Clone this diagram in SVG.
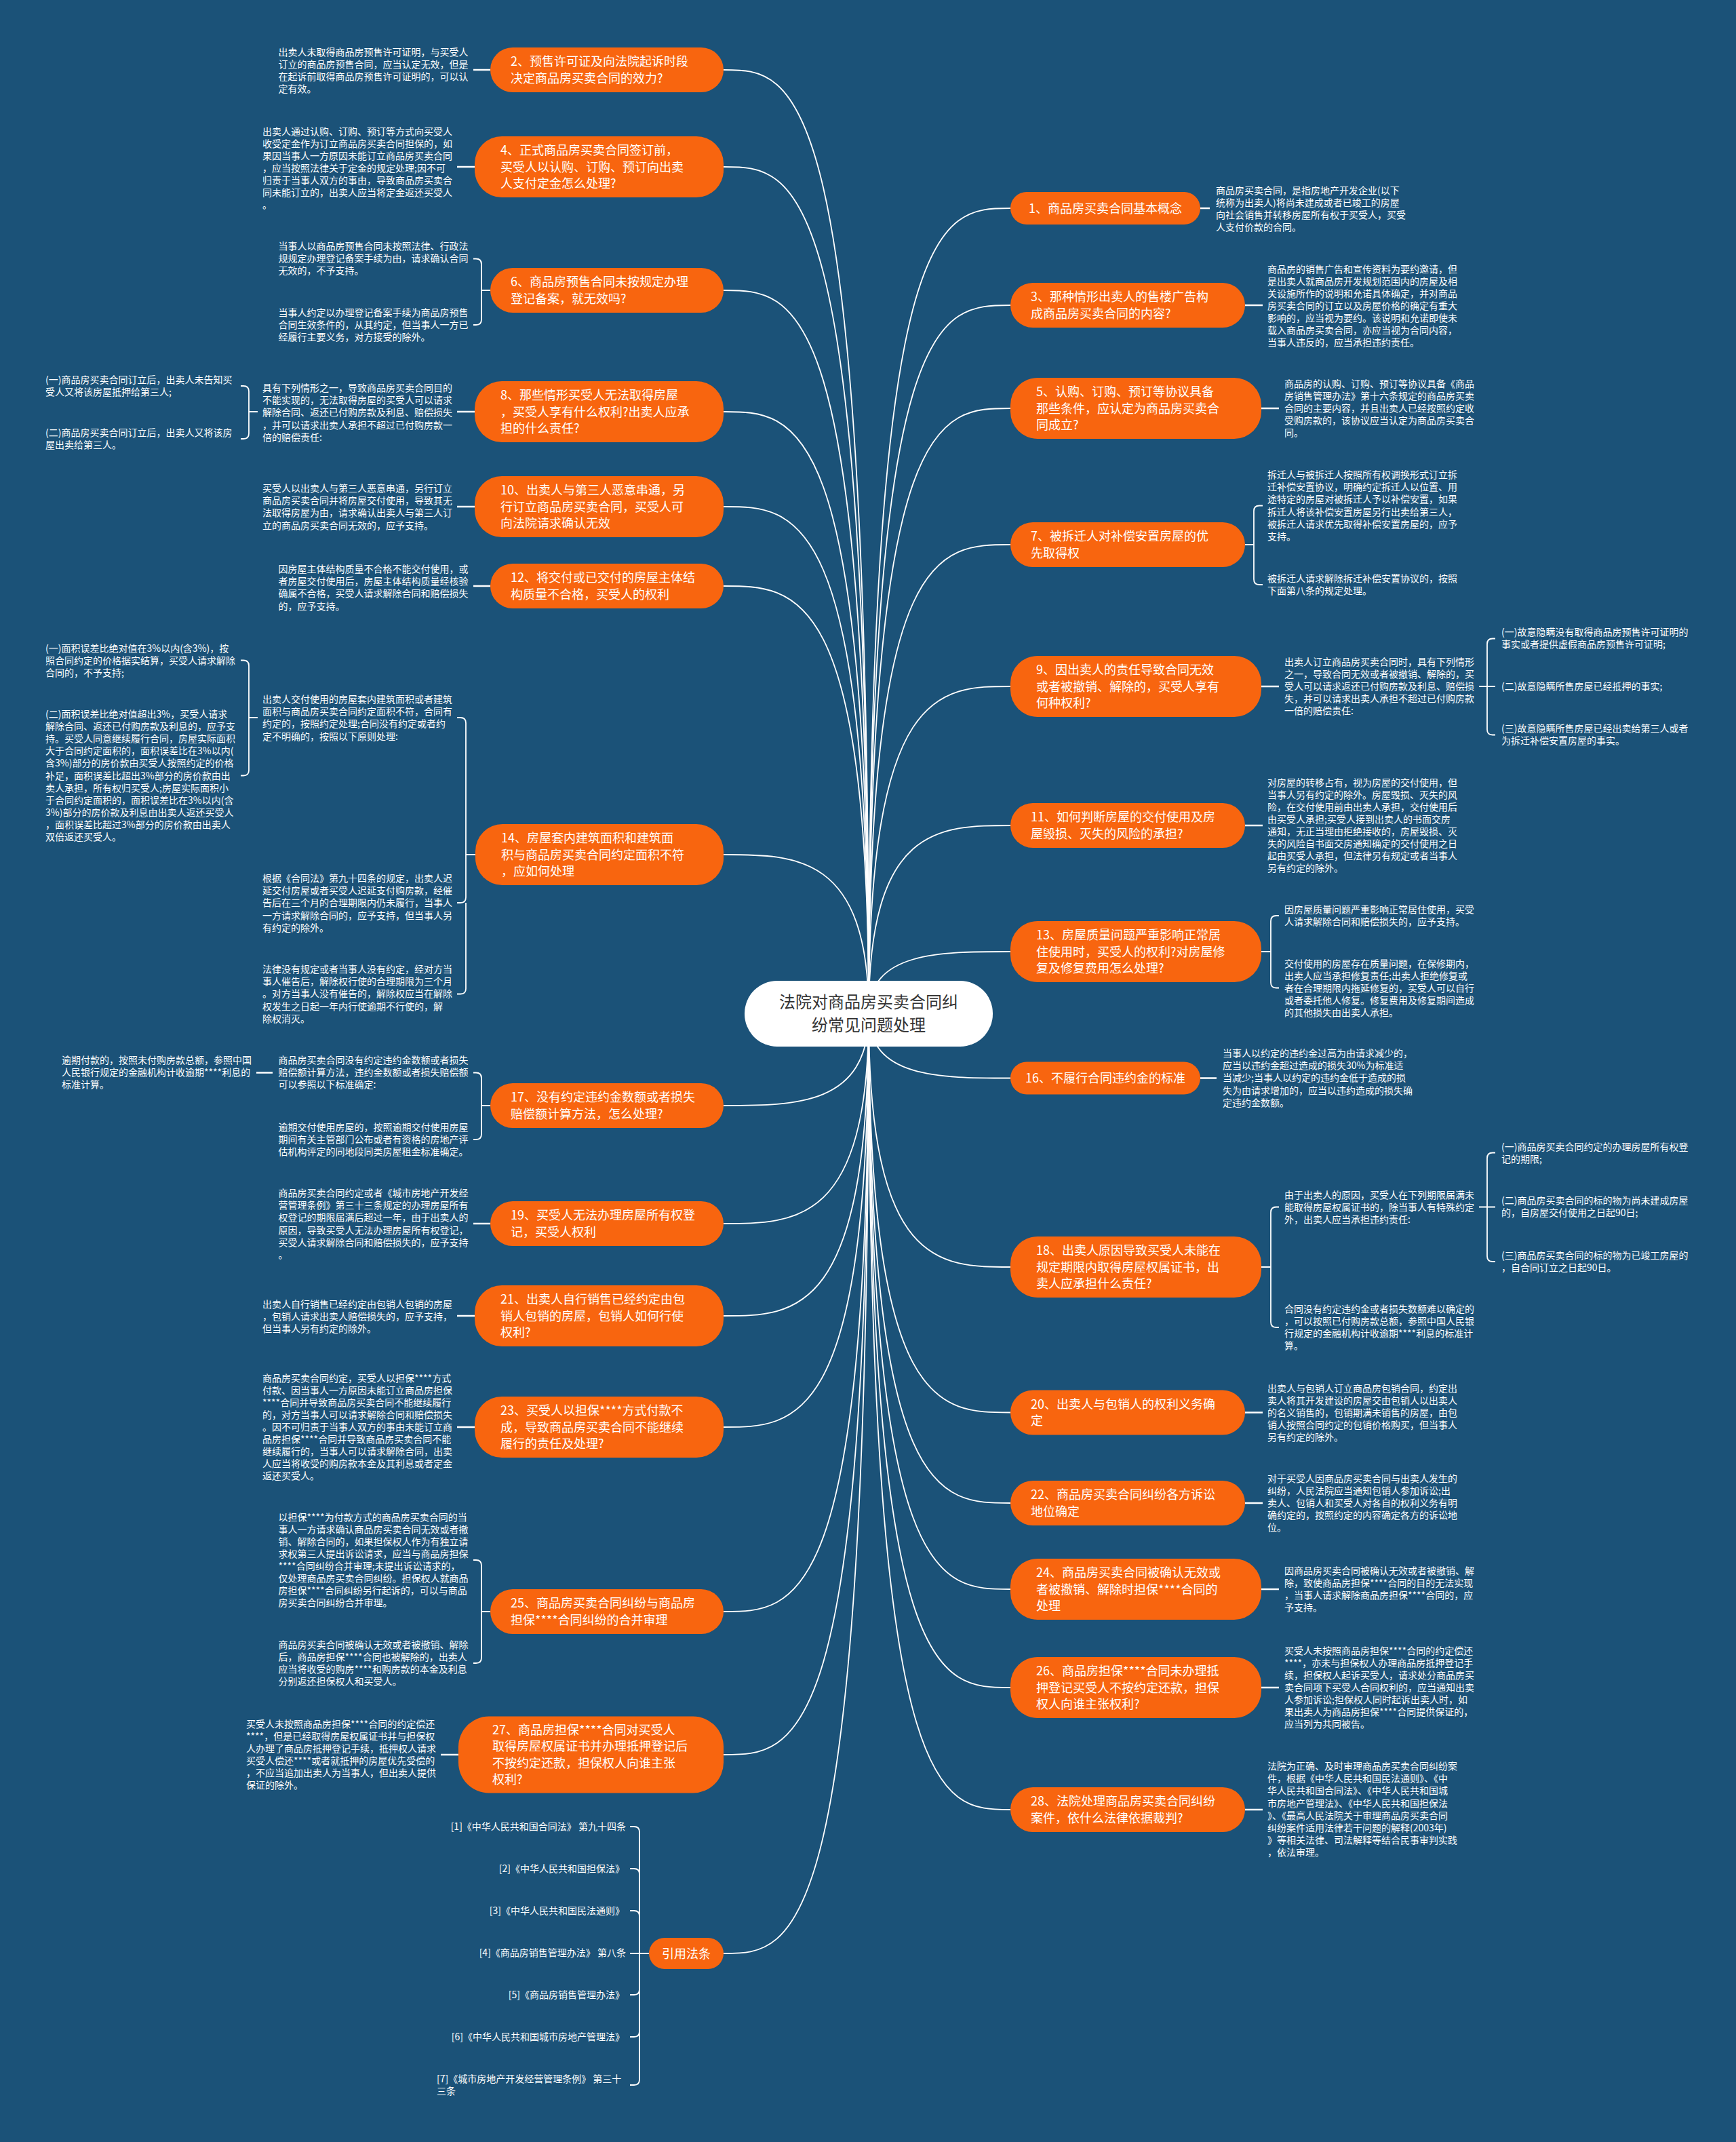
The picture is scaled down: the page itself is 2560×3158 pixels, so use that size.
<svg xmlns="http://www.w3.org/2000/svg" width="2560" height="3158" viewBox="0 0 2560 3158">
<style>
.t{font-family:"Noto Sans CJK SC","Noto Sans",sans-serif;font-size:14px;fill:#fff}
.nt{font-family:"Noto Sans CJK SC","Noto Sans",sans-serif;font-size:18px;fill:#fff}
.ct{font-family:"Noto Sans CJK SC","Noto Sans",sans-serif;font-size:24px;fill:#333;text-anchor:middle}
.re{text-anchor:end}
.n{fill:#f8650f}
.c{fill:none;stroke:#fff;stroke-width:1.8}
.s{fill:none;stroke:#fff;stroke-width:2.5}
</style>
<rect width="2560" height="3158" fill="#1b5278"/>
<g id="connectors">
<path class="c" d="M1281 1495C1281 103 1174 103 1067 103"/>
<path class="c" d="M1281 1495C1281 246 1174 246 1067 246"/>
<path class="c" d="M1281 1495C1281 428 1174 428 1067 428"/>
<path class="c" d="M1281 1495C1281 607 1174 607 1067 607"/>
<path class="c" d="M1281 1495C1281 747 1174 747 1067 747"/>
<path class="c" d="M1281 1495C1281 864 1174 864 1067 864"/>
<path class="c" d="M1281 1495C1281 1260 1174 1260 1067 1260"/>
<path class="c" d="M1281 1495C1281 1630 1174 1630 1067 1630"/>
<path class="c" d="M1281 1495C1281 1804 1174 1804 1067 1804"/>
<path class="c" d="M1281 1495C1281 1940 1174 1940 1067 1940"/>
<path class="c" d="M1281 1495C1281 2104 1174 2104 1067 2104"/>
<path class="c" d="M1281 1495C1281 2376 1174 2376 1067 2376"/>
<path class="c" d="M1281 1495C1281 2587 1174 2587 1067 2587"/>
<path class="c" d="M1281 1495C1281 2880 1174 2880 1067 2880"/>
<path class="c" d="M1281 1495C1281 307 1385.5 307 1490 307"/>
<path class="c" d="M1281 1495C1281 450 1385.5 450 1490 450"/>
<path class="c" d="M1281 1495C1281 602 1385.5 602 1490 602"/>
<path class="c" d="M1281 1495C1281 803 1385.5 803 1490 803"/>
<path class="c" d="M1281 1495C1281 1012 1385.5 1012 1490 1012"/>
<path class="c" d="M1281 1495C1281 1217 1385.5 1217 1490 1217"/>
<path class="c" d="M1281 1495C1281 1403 1385.5 1403 1490 1403"/>
<path class="c" d="M1281 1495C1281 1589.5 1385.5 1589.5 1490 1589.5"/>
<path class="c" d="M1281 1495C1281 1868 1385.5 1868 1490 1868"/>
<path class="c" d="M1281 1495C1281 2082.5 1385.5 2082.5 1490 2082.5"/>
<path class="c" d="M1281 1495C1281 2216 1385.5 2216 1490 2216"/>
<path class="c" d="M1281 1495C1281 2343 1385.5 2343 1490 2343"/>
<path class="c" d="M1281 1495C1281 2488 1385.5 2488 1490 2488"/>
<path class="c" d="M1281 1495C1281 2668 1385.5 2668 1490 2668"/>
<path class="s" d="M698 103H723M674 246H700M674 607H700M674 747H700M698 864H723M378 1581.5H402M698 1804H723M674 1940H700M674 2104H700M650 2587H676"/>
<path class="s" d="M1770 307H1784M1836 450H1862M1860 602H1886M1860 1012H1886M1836 1217H1862M1770 1589.5H1794M1836 2082.5H1862M1836 2216H1862M1860 2343H1886M1860 2488H1886M1836 2668H1862"/>
<path class="c" d="M723 428H710V389.5Q710 381.5 702 381.5H698M710 428V471Q710 479 702 479H698"/>
<path class="c" d="M380 607H367V577Q367 569 359 569H355M367 607V639Q367 647 359 647H355"/>
<path class="c" d="M701 1260H687V1066Q687 1058 679 1058H674M687 1260V1323Q687 1331 679 1331H674M687 1331V1457.5Q687 1465.5 679 1465.5H674"/>
<path class="c" d="M380 1058H367V981.5Q367 973.5 359 973.5H355M367 1058V1135.5Q367 1143.5 359 1143.5H355"/>
<path class="c" d="M723 1630H710V1589.5Q710 1581.5 702 1581.5H698M710 1630V1672Q710 1680 702 1680H698"/>
<path class="c" d="M723 2376H710V2308Q710 2300 702 2300H698M710 2376V2444Q710 2452 702 2452H698"/>
<path class="c" d="M957 2880H929M943 2880V2701Q943 2693 935 2693H929M943 2763Q943 2755 935 2755H929M943 2825Q943 2817 935 2817H929M943 2933Q943 2941 935 2941H929M943 2995Q943 3003 935 3003H929M943 2880V3066Q943 3074 935 3074H929"/>
<path class="c" d="M1836 803H1849V753.5Q1849 745.5 1857 745.5H1862M1849 803V854Q1849 862 1857 862H1862"/>
<path class="c" d="M2181 1012H2205M2193 1012V949.5Q2193 941.5 2201 941.5H2205M2193 1012V1075.5Q2193 1083.5 2201 1083.5H2205"/>
<path class="c" d="M1860 1403H1874V1358Q1874 1350 1882 1350H1886M1874 1403V1448.5Q1874 1456.5 1882 1456.5H1886"/>
<path class="c" d="M1860 1868H1874V1787.5Q1874 1779.5 1882 1779.5H1886M1874 1868V1949Q1874 1957 1882 1957H1886"/>
<path class="c" d="M2181 1779.5H2205M2193 1779.5V1707.5Q2193 1699.5 2201 1699.5H2205M2193 1779.5V1852Q2193 1860 2201 1860H2205"/>
</g>
<g id="center"><rect x="1098" y="1446" width="366" height="97" rx="48" fill="#fff"/><text class="ct" x="1281" y="1485.5"><tspan x="1281">法院对商品房买卖合同纠</tspan><tspan x="1281" dy="34">纷常见问题处理</tspan></text></g>
<g id="n2"><rect class="n" x="723" y="70" width="344" height="66" rx="33"/><text class="nt" x="753" y="97.25"><tspan x="753">2、预售许可证及向法院起诉时段</tspan><tspan x="753" dy="24.5">决定商品房买卖合同的效力?</tspan></text></g>
<g id="n4"><rect class="n" x="700" y="201" width="367" height="90" rx="40"/><text class="nt" x="738" y="228"><tspan x="738">4、正式商品房买卖合同签订前，</tspan><tspan x="738" dy="24.5">买受人以认购、订购、预订向出卖</tspan><tspan x="738" dy="24.5">人支付定金怎么处理?</tspan></text></g>
<g id="n6"><rect class="n" x="723" y="395" width="344" height="66" rx="33"/><text class="nt" x="753" y="422.25"><tspan x="753">6、商品房预售合同未按规定办理</tspan><tspan x="753" dy="24.5">登记备案，就无效吗?</tspan></text></g>
<g id="n8"><rect class="n" x="700" y="562" width="367" height="90" rx="40"/><text class="nt" x="738" y="589"><tspan x="738">8、那些情形买受人无法取得房屋</tspan><tspan x="738" dy="24.5">，买受人享有什么权利?出卖人应承</tspan><tspan x="738" dy="24.5">担的什么责任?</tspan></text></g>
<g id="n10"><rect class="n" x="700" y="702" width="367" height="90" rx="40"/><text class="nt" x="738" y="729"><tspan x="738">10、出卖人与第三人恶意串通，另</tspan><tspan x="738" dy="24.5">行订立商品房买卖合同，买受人可</tspan><tspan x="738" dy="24.5">向法院请求确认无效</tspan></text></g>
<g id="n12"><rect class="n" x="723" y="831" width="344" height="66" rx="33"/><text class="nt" x="753" y="858.25"><tspan x="753">12、将交付或已交付的房屋主体结</tspan><tspan x="753" dy="24.5">构质量不合格，买受人的权利</tspan></text></g>
<g id="n14"><rect class="n" x="701" y="1215" width="366" height="90" rx="40"/><text class="nt" x="739" y="1242"><tspan x="739">14、房屋套内建筑面积和建筑面</tspan><tspan x="739" dy="24.5">积与商品房买卖合同约定面积不符</tspan><tspan x="739" dy="24.5">，应如何处理</tspan></text></g>
<g id="n17"><rect class="n" x="723" y="1597" width="344" height="66" rx="33"/><text class="nt" x="753" y="1624.25"><tspan x="753">17、没有约定违约金数额或者损失</tspan><tspan x="753" dy="24.5">赔偿额计算方法，怎么处理?</tspan></text></g>
<g id="n19"><rect class="n" x="723" y="1771" width="344" height="66" rx="33"/><text class="nt" x="753" y="1798.25"><tspan x="753">19、买受人无法办理房屋所有权登</tspan><tspan x="753" dy="24.5">记，买受人权利</tspan></text></g>
<g id="n21"><rect class="n" x="700" y="1895" width="367" height="90" rx="40"/><text class="nt" x="738" y="1922"><tspan x="738">21、出卖人自行销售已经约定由包</tspan><tspan x="738" dy="24.5">销人包销的房屋，包销人如何行使</tspan><tspan x="738" dy="24.5">权利?</tspan></text></g>
<g id="n23"><rect class="n" x="700" y="2059" width="367" height="90" rx="40"/><text class="nt" x="738" y="2086"><tspan x="738">23、买受人以担保****方式付款不</tspan><tspan x="738" dy="24.5">成，导致商品房买卖合同不能继续</tspan><tspan x="738" dy="24.5">履行的责任及处理?</tspan></text></g>
<g id="n25"><rect class="n" x="723" y="2343" width="344" height="66" rx="33"/><text class="nt" x="753" y="2370.25"><tspan x="753">25、商品房买卖合同纠纷与商品房</tspan><tspan x="753" dy="24.5">担保****合同纠纷的合并审理</tspan></text></g>
<g id="n27"><rect class="n" x="676" y="2530.5" width="391" height="113" rx="45"/><text class="nt" x="726" y="2556.75"><tspan x="726">27、商品房担保****合同对买受人</tspan><tspan x="726" dy="24.5">取得房屋权属证书并办理抵押登记后</tspan><tspan x="726" dy="24.5">不按约定还款，担保权人向谁主张</tspan><tspan x="726" dy="24.5">权利?</tspan></text></g>
<g id="nref"><rect class="n" x="957" y="2857" width="110" height="46" rx="23"/><text class="nt" x="976" y="2886.5">引用法条</text></g>
<g id="n1"><rect class="n" x="1490" y="283" width="280" height="48" rx="24"/><text class="nt" x="1517" y="313.5">1、商品房买卖合同基本概念</text></g>
<g id="n3"><rect class="n" x="1490" y="417" width="346" height="66" rx="33"/><text class="nt" x="1520" y="444.25"><tspan x="1520">3、那种情形出卖人的售楼广告构</tspan><tspan x="1520" dy="24.5">成商品房买卖合同的内容?</tspan></text></g>
<g id="n5"><rect class="n" x="1490" y="557" width="370" height="90" rx="40"/><text class="nt" x="1528" y="584"><tspan x="1528">5、认购、订购、预订等协议具备</tspan><tspan x="1528" dy="24.5">那些条件，应认定为商品房买卖合</tspan><tspan x="1528" dy="24.5">同成立?</tspan></text></g>
<g id="n7"><rect class="n" x="1490" y="770" width="346" height="66" rx="33"/><text class="nt" x="1520" y="797.25"><tspan x="1520">7、被拆迁人对补偿安置房屋的优</tspan><tspan x="1520" dy="24.5">先取得权</tspan></text></g>
<g id="n9"><rect class="n" x="1490" y="967" width="370" height="90" rx="40"/><text class="nt" x="1528" y="994"><tspan x="1528">9、因出卖人的责任导致合同无效</tspan><tspan x="1528" dy="24.5">或者被撤销、解除的，买受人享有</tspan><tspan x="1528" dy="24.5">何种权利?</tspan></text></g>
<g id="n11"><rect class="n" x="1490" y="1184" width="346" height="66" rx="33"/><text class="nt" x="1520" y="1211.25"><tspan x="1520">11、如何判断房屋的交付使用及房</tspan><tspan x="1520" dy="24.5">屋毁损、灭失的风险的承担?</tspan></text></g>
<g id="n13"><rect class="n" x="1490" y="1358" width="370" height="90" rx="40"/><text class="nt" x="1528" y="1385"><tspan x="1528">13、房屋质量问题严重影响正常居</tspan><tspan x="1528" dy="24.5">住使用时，买受人的权利?对房屋修</tspan><tspan x="1528" dy="24.5">复及修复费用怎么处理?</tspan></text></g>
<g id="n16"><rect class="n" x="1490" y="1565.5" width="280" height="48" rx="24"/><text class="nt" x="1512" y="1596">16、不履行合同违约金的标准</text></g>
<g id="n18"><rect class="n" x="1490" y="1823" width="370" height="90" rx="40"/><text class="nt" x="1528" y="1850"><tspan x="1528">18、出卖人原因导致买受人未能在</tspan><tspan x="1528" dy="24.5">规定期限内取得房屋权属证书，出</tspan><tspan x="1528" dy="24.5">卖人应承担什么责任?</tspan></text></g>
<g id="n20"><rect class="n" x="1490" y="2049.5" width="346" height="66" rx="33"/><text class="nt" x="1520" y="2076.75"><tspan x="1520">20、出卖人与包销人的权利义务确</tspan><tspan x="1520" dy="24.5">定</tspan></text></g>
<g id="n22"><rect class="n" x="1490" y="2183" width="346" height="66" rx="33"/><text class="nt" x="1520" y="2210.25"><tspan x="1520">22、商品房买卖合同纠纷各方诉讼</tspan><tspan x="1520" dy="24.5">地位确定</tspan></text></g>
<g id="n24"><rect class="n" x="1490" y="2298" width="370" height="90" rx="40"/><text class="nt" x="1528" y="2325"><tspan x="1528">24、商品房买卖合同被确认无效或</tspan><tspan x="1528" dy="24.5">者被撤销、解除时担保****合同的</tspan><tspan x="1528" dy="24.5">处理</tspan></text></g>
<g id="n26"><rect class="n" x="1490" y="2443" width="370" height="90" rx="40"/><text class="nt" x="1528" y="2470"><tspan x="1528">26、商品房担保****合同未办理抵</tspan><tspan x="1528" dy="24.5">押登记买受人不按约定还款，担保</tspan><tspan x="1528" dy="24.5">权人向谁主张权利?</tspan></text></g>
<g id="n28"><rect class="n" x="1490" y="2635" width="346" height="66" rx="33"/><text class="nt" x="1520" y="2662.25"><tspan x="1520">28、法院处理商品房买卖合同纠纷</tspan><tspan x="1520" dy="24.5">案件，依什么法律依据裁判?</tspan></text></g>
<g id="t2"><text class="t" x="410.5" y="81.7"><tspan x="410.5">出卖人未取得商品房预售许可证明，与买受人</tspan><tspan x="410.5" dy="18.2">订立的商品房预售合同，应当认定无效，但是</tspan><tspan x="410.5" dy="18.2">在起诉前取得商品房预售许可证明的，可以认</tspan><tspan x="410.5" dy="18.2">定有效。</tspan></text></g>
<g id="t4"><text class="t" x="387" y="199"><tspan x="387">出卖人通过认购、订购、预订等方式向买受人</tspan><tspan x="387" dy="18">收受定金作为订立商品房买卖合同担保的，如</tspan><tspan x="387" dy="18">果因当事人一方原因未能订立商品房买卖合同</tspan><tspan x="387" dy="18">，应当按照法律关于定金的规定处理;因不可</tspan><tspan x="387" dy="18">归责于当事人双方的事由，导致商品房买卖合</tspan><tspan x="387" dy="18">同未能订立的，出卖人应当将定金返还买受人</tspan><tspan x="387" dy="18">。</tspan></text></g>
<g id="t6a"><text class="t" x="410.5" y="368"><tspan x="410.5">当事人以商品房预售合同未按照法律、行政法</tspan><tspan x="410.5" dy="18.2">规规定办理登记备案手续为由，请求确认合同</tspan><tspan x="410.5" dy="18.2">无效的，不予支持。</tspan></text></g>
<g id="t6b"><text class="t" x="410.5" y="466"><tspan x="410.5">当事人约定以办理登记备案手续为商品房预售</tspan><tspan x="410.5" dy="18.2">合同生效条件的，从其约定，但当事人一方已</tspan><tspan x="410.5" dy="18.2">经履行主要义务，对方接受的除外。</tspan></text></g>
<g id="t8"><text class="t" x="387" y="577"><tspan x="387">具有下列情形之一，导致商品房买卖合同目的</tspan><tspan x="387" dy="18.2">不能实现的，无法取得房屋的买受人可以请求</tspan><tspan x="387" dy="18.2">解除合同、返还已付购房款及利息、赔偿损失</tspan><tspan x="387" dy="18.2">，并可以请求出卖人承担不超过已付购房款一</tspan><tspan x="387" dy="18.2">倍的赔偿责任:</tspan></text></g>
<g id="t8s1"><text class="t" x="67" y="565"><tspan x="67">(一)商品房买卖合同订立后，出卖人未告知买</tspan><tspan x="67" dy="18.2">受人又将该房屋抵押给第三人;</tspan></text></g>
<g id="t8s2"><text class="t" x="67" y="643"><tspan x="67">(二)商品房买卖合同订立后，出卖人又将该房</tspan><tspan x="67" dy="18.2">屋出卖给第三人。</tspan></text></g>
<g id="t10"><text class="t" x="387" y="725"><tspan x="387">买受人以出卖人与第三人恶意串通，另行订立</tspan><tspan x="387" dy="18.2">商品房买卖合同并将房屋交付使用，导致其无</tspan><tspan x="387" dy="18.2">法取得房屋为由，请求确认出卖人与第三人订</tspan><tspan x="387" dy="18.2">立的商品房买卖合同无效的，应予支持。</tspan></text></g>
<g id="t12"><text class="t" x="410.5" y="844"><tspan x="410.5">因房屋主体结构质量不合格不能交付使用，或</tspan><tspan x="410.5" dy="18.2">者房屋交付使用后，房屋主体结构质量经核验</tspan><tspan x="410.5" dy="18.2">确属不合格，买受人请求解除合同和赔偿损失</tspan><tspan x="410.5" dy="18.2">的，应予支持。</tspan></text></g>
<g id="t14a"><text class="t" x="387" y="1036"><tspan x="387">出卖人交付使用的房屋套内建筑面积或者建筑</tspan><tspan x="387" dy="18.2">面积与商品房买卖合同约定面积不符，合同有</tspan><tspan x="387" dy="18.2">约定的，按照约定处理;合同没有约定或者约</tspan><tspan x="387" dy="18.2">定不明确的，按照以下原则处理:</tspan></text></g>
<g id="t14s1"><text class="t" x="67" y="961"><tspan x="67">(一)面积误差比绝对值在3%以内(含3%)，按</tspan><tspan x="67" dy="18.2">照合同约定的价格据实结算，买受人请求解除</tspan><tspan x="67" dy="18.2">合同的，不予支持;</tspan></text></g>
<g id="t14s2"><text class="t" x="67" y="1058"><tspan x="67">(二)面积误差比绝对值超出3%，买受人请求</tspan><tspan x="67" dy="18.1">解除合同、返还已付购房款及利息的，应予支</tspan><tspan x="67" dy="18.1">持。买受人同意继续履行合同，房屋实际面积</tspan><tspan x="67" dy="18.1">大于合同约定面积的，面积误差比在3%以内(</tspan><tspan x="67" dy="18.1">含3%)部分的房价款由买受人按照约定的价格</tspan><tspan x="67" dy="18.1">补足，面积误差比超出3%部分的房价款由出</tspan><tspan x="67" dy="18.1">卖人承担，所有权归买受人;房屋实际面积小</tspan><tspan x="67" dy="18.1">于合同约定面积的，面积误差比在3%以内(含</tspan><tspan x="67" dy="18.1">3%)部分的房价款及利息由出卖人返还买受人</tspan><tspan x="67" dy="18.1">，面积误差比超过3%部分的房价款由出卖人</tspan><tspan x="67" dy="18.1">双倍返还买受人。</tspan></text></g>
<g id="t14b"><text class="t" x="387" y="1300"><tspan x="387">根据《合同法》第九十四条的规定，出卖人迟</tspan><tspan x="387" dy="18.2">延交付房屋或者买受人迟延支付购房款，经催</tspan><tspan x="387" dy="18.2">告后在三个月的合理期限内仍未履行，当事人</tspan><tspan x="387" dy="18.2">一方请求解除合同的，应予支持，但当事人另</tspan><tspan x="387" dy="18.2">有约定的除外。</tspan></text></g>
<g id="t14c"><text class="t" x="387" y="1434"><tspan x="387">法律没有规定或者当事人没有约定，经对方当</tspan><tspan x="387" dy="18.2">事人催告后，解除权行使的合理期限为三个月</tspan><tspan x="387" dy="18.2">。对方当事人没有催告的，解除权应当在解除</tspan><tspan x="387" dy="18.2">权发生之日起一年内行使逾期不行使的，解</tspan><tspan x="387" dy="18.2">除权消灭。</tspan></text></g>
<g id="t17a"><text class="t" x="410.5" y="1568"><tspan x="410.5">商品房买卖合同没有约定违约金数额或者损失</tspan><tspan x="410.5" dy="18.2">赔偿额计算方法，违约金数额或者损失赔偿额</tspan><tspan x="410.5" dy="18.2">可以参照以下标准确定:</tspan></text></g>
<g id="t17s"><text class="t" x="91" y="1568"><tspan x="91">逾期付款的，按照未付购房款总额，参照中国</tspan><tspan x="91" dy="18.2">人民银行规定的金融机构计收逾期****利息的</tspan><tspan x="91" dy="18.2">标准计算。</tspan></text></g>
<g id="t17b"><text class="t" x="410.5" y="1667"><tspan x="410.5">逾期交付使用房屋的，按照逾期交付使用房屋</tspan><tspan x="410.5" dy="18.2">期间有关主管部门公布或者有资格的房地产评</tspan><tspan x="410.5" dy="18.2">估机构评定的同地段同类房屋租金标准确定。</tspan></text></g>
<g id="t19"><text class="t" x="410.5" y="1764"><tspan x="410.5">商品房买卖合同约定或者《城市房地产开发经</tspan><tspan x="410.5" dy="18.2">营管理条例》第三十三条规定的办理房屋所有</tspan><tspan x="410.5" dy="18.2">权登记的期限届满后超过一年，由于出卖人的</tspan><tspan x="410.5" dy="18.2">原因，导致买受人无法办理房屋所有权登记，</tspan><tspan x="410.5" dy="18.2">买受人请求解除合同和赔偿损失的，应予支持</tspan><tspan x="410.5" dy="18.2">。</tspan></text></g>
<g id="t21"><text class="t" x="387" y="1928"><tspan x="387">出卖人自行销售已经约定由包销人包销的房屋</tspan><tspan x="387" dy="18.2">，包销人请求出卖人赔偿损失的，应予支持，</tspan><tspan x="387" dy="18.2">但当事人另有约定的除外。</tspan></text></g>
<g id="t23"><text class="t" x="387" y="2037"><tspan x="387">商品房买卖合同约定，买受人以担保****方式</tspan><tspan x="387" dy="18">付款、因当事人一方原因未能订立商品房担保</tspan><tspan x="387" dy="18">****合同并导致商品房买卖合同不能继续履行</tspan><tspan x="387" dy="18">的，对方当事人可以请求解除合同和赔偿损失</tspan><tspan x="387" dy="18">。因不可归责于当事人双方的事由未能订立商</tspan><tspan x="387" dy="18">品房担保****合同并导致商品房买卖合同不能</tspan><tspan x="387" dy="18">继续履行的，当事人可以请求解除合同，出卖</tspan><tspan x="387" dy="18">人应当将收受的购房款本金及其利息或者定金</tspan><tspan x="387" dy="18">返还买受人。</tspan></text></g>
<g id="t25a"><text class="t" x="410.5" y="2242"><tspan x="410.5">以担保****为付款方式的商品房买卖合同的当</tspan><tspan x="410.5" dy="18">事人一方请求确认商品房买卖合同无效或者撤</tspan><tspan x="410.5" dy="18">销、解除合同的，如果担保权人作为有独立请</tspan><tspan x="410.5" dy="18">求权第三人提出诉讼请求，应当与商品房担保</tspan><tspan x="410.5" dy="18">****合同纠纷合并审理;未提出诉讼请求的，</tspan><tspan x="410.5" dy="18">仅处理商品房买卖合同纠纷。担保权人就商品</tspan><tspan x="410.5" dy="18">房担保****合同纠纷另行起诉的，可以与商品</tspan><tspan x="410.5" dy="18">房买卖合同纠纷合并审理。</tspan></text></g>
<g id="t25b"><text class="t" x="410.5" y="2430"><tspan x="410.5">商品房买卖合同被确认无效或者被撤销、解除</tspan><tspan x="410.5" dy="18">后，商品房担保****合同也被解除的，出卖人</tspan><tspan x="410.5" dy="18">应当将收受的购房****和购房款的本金及利息</tspan><tspan x="410.5" dy="18">分别返还担保权人和买受人。</tspan></text></g>
<g id="t27"><text class="t" x="363" y="2547"><tspan x="363">买受人未按照商品房担保****合同的约定偿还</tspan><tspan x="363" dy="18">****，但是已经取得房屋权属证书并与担保权</tspan><tspan x="363" dy="18">人办理了商品房抵押登记手续，抵押权人请求</tspan><tspan x="363" dy="18">买受人偿还****或者就抵押的房屋优先受偿的</tspan><tspan x="363" dy="18">，不应当追加出卖人为当事人，但出卖人提供</tspan><tspan x="363" dy="18">保证的除外。</tspan></text></g>
<g id="refs">
<text class="t re" x="923" y="2698">[1]《中华人民共和国合同法》 第九十四条</text>
<text class="t re" x="921" y="2760">[2]《中华人民共和国担保法》</text>
<text class="t re" x="921" y="2822">[3]《中华人民共和国民法通则》</text>
<text class="t re" x="923" y="2884">[4]《商品房销售管理办法》 第八条</text>
<text class="t re" x="921" y="2946">[5]《商品房销售管理办法》</text>
<text class="t re" x="921" y="3008">[6]《中华人民共和国城市房地产管理法》</text>
<text class="t" x="644" y="3070"><tspan x="644">[7]《城市房地产开发经营管理条例》 第三十</tspan><tspan x="644" dy="18.2">三条</tspan></text>
</g>
<g id="t1"><text class="t" x="1793" y="286"><tspan x="1793">商品房买卖合同，是指房地产开发企业(以下</tspan><tspan x="1793" dy="18">统称为出卖人)将尚未建成或者已竣工的房屋</tspan><tspan x="1793" dy="18">向社会销售并转移房屋所有权于买受人，买受</tspan><tspan x="1793" dy="18">人支付价款的合同。</tspan></text></g>
<g id="t3"><text class="t" x="1869" y="402"><tspan x="1869">商品房的销售广告和宣传资料为要约邀请，但</tspan><tspan x="1869" dy="18">是出卖人就商品房开发规划范围内的房屋及相</tspan><tspan x="1869" dy="18">关设施所作的说明和允诺具体确定，并对商品</tspan><tspan x="1869" dy="18">房买卖合同的订立以及房屋价格的确定有重大</tspan><tspan x="1869" dy="18">影响的，应当视为要约。该说明和允诺即使未</tspan><tspan x="1869" dy="18">载入商品房买卖合同，亦应当视为合同内容，</tspan><tspan x="1869" dy="18">当事人违反的，应当承担违约责任。</tspan></text></g>
<g id="t5"><text class="t" x="1894" y="571"><tspan x="1894">商品房的认购、订购、预订等协议具备《商品</tspan><tspan x="1894" dy="18">房销售管理办法》第十六条规定的商品房买卖</tspan><tspan x="1894" dy="18">合同的主要内容，并且出卖人已经按照约定收</tspan><tspan x="1894" dy="18">受购房款的，该协议应当认定为商品房买卖合</tspan><tspan x="1894" dy="18">同。</tspan></text></g>
<g id="t7a"><text class="t" x="1869" y="705"><tspan x="1869">拆迁人与被拆迁人按照所有权调换形式订立拆</tspan><tspan x="1869" dy="18.2">迁补偿安置协议，明确约定拆迁人以位置、用</tspan><tspan x="1869" dy="18.2">途特定的房屋对被拆迁人予以补偿安置，如果</tspan><tspan x="1869" dy="18.2">拆迁人将该补偿安置房屋另行出卖给第三人，</tspan><tspan x="1869" dy="18.2">被拆迁人请求优先取得补偿安置房屋的，应予</tspan><tspan x="1869" dy="18.2">支持。</tspan></text></g>
<g id="t7b"><text class="t" x="1869" y="858"><tspan x="1869">被拆迁人请求解除拆迁补偿安置协议的，按照</tspan><tspan x="1869" dy="18.2">下面第八条的规定处理。</tspan></text></g>
<g id="t9"><text class="t" x="1894" y="981"><tspan x="1894">出卖人订立商品房买卖合同时，具有下列情形</tspan><tspan x="1894" dy="18">之一，导致合同无效或者被撤销、解除的，买</tspan><tspan x="1894" dy="18">受人可以请求返还已付购房款及利息、赔偿损</tspan><tspan x="1894" dy="18">失，并可以请求出卖人承担不超过已付购房款</tspan><tspan x="1894" dy="18">一倍的赔偿责任:</tspan></text></g>
<g id="t9s1"><text class="t" x="2214" y="937"><tspan x="2214">(一)故意隐瞒没有取得商品房预售许可证明的</tspan><tspan x="2214" dy="18.2">事实或者提供虚假商品房预售许可证明;</tspan></text></g>
<g id="t9s2"><text class="t" x="2214" y="1017">(二)故意隐瞒所售房屋已经抵押的事实;</text></g>
<g id="t9s3"><text class="t" x="2214" y="1079"><tspan x="2214">(三)故意隐瞒所售房屋已经出卖给第三人或者</tspan><tspan x="2214" dy="18.2">为拆迁补偿安置房屋的事实。</tspan></text></g>
<g id="t11"><text class="t" x="1869" y="1159"><tspan x="1869">对房屋的转移占有，视为房屋的交付使用，但</tspan><tspan x="1869" dy="18">当事人另有约定的除外。房屋毁损、灭失的风</tspan><tspan x="1869" dy="18">险，在交付使用前由出卖人承担，交付使用后</tspan><tspan x="1869" dy="18">由买受人承担;买受人接到出卖人的书面交房</tspan><tspan x="1869" dy="18">通知，无正当理由拒绝接收的，房屋毁损、灭</tspan><tspan x="1869" dy="18">失的风险自书面交房通知确定的交付使用之日</tspan><tspan x="1869" dy="18">起由买受人承担，但法律另有规定或者当事人</tspan><tspan x="1869" dy="18">另有约定的除外。</tspan></text></g>
<g id="t13a"><text class="t" x="1894" y="1346"><tspan x="1894">因房屋质量问题严重影响正常居住使用，买受</tspan><tspan x="1894" dy="18">人请求解除合同和赔偿损失的，应予支持。</tspan></text></g>
<g id="t13b"><text class="t" x="1894" y="1426"><tspan x="1894">交付使用的房屋存在质量问题，在保修期内，</tspan><tspan x="1894" dy="18">出卖人应当承担修复责任;出卖人拒绝修复或</tspan><tspan x="1894" dy="18">者在合理期限内拖延修复的，买受人可以自行</tspan><tspan x="1894" dy="18">或者委托他人修复。修复费用及修复期间造成</tspan><tspan x="1894" dy="18">的其他损失由出卖人承担。</tspan></text></g>
<g id="t16"><text class="t" x="1803" y="1558"><tspan x="1803">当事人以约定的违约金过高为由请求减少的，</tspan><tspan x="1803" dy="18.2">应当以违约金超过造成的损失30%为标准适</tspan><tspan x="1803" dy="18.2">当减少;当事人以约定的违约金低于造成的损</tspan><tspan x="1803" dy="18.2">失为由请求增加的，应当以违约造成的损失确</tspan><tspan x="1803" dy="18.2">定违约金数额。</tspan></text></g>
<g id="t18a"><text class="t" x="1894" y="1767"><tspan x="1894">由于出卖人的原因，买受人在下列期限届满未</tspan><tspan x="1894" dy="18">能取得房屋权属证书的，除当事人有特殊约定</tspan><tspan x="1894" dy="18">外，出卖人应当承担违约责任:</tspan></text></g>
<g id="t18s1"><text class="t" x="2214" y="1696"><tspan x="2214">(一)商品房买卖合同约定的办理房屋所有权登</tspan><tspan x="2214" dy="18">记的期限;</tspan></text></g>
<g id="t18s2"><text class="t" x="2214" y="1775"><tspan x="2214">(二)商品房买卖合同的标的物为尚未建成房屋</tspan><tspan x="2214" dy="18">的，自房屋交付使用之日起90日;</tspan></text></g>
<g id="t18s3"><text class="t" x="2214" y="1856"><tspan x="2214">(三)商品房买卖合同的标的物为已竣工房屋的</tspan><tspan x="2214" dy="18">，自合同订立之日起90日。</tspan></text></g>
<g id="t18b"><text class="t" x="1894" y="1935"><tspan x="1894">合同没有约定违约金或者损失数额难以确定的</tspan><tspan x="1894" dy="18">，可以按照已付购房款总额，参照中国人民银</tspan><tspan x="1894" dy="18">行规定的金融机构计收逾期****利息的标准计</tspan><tspan x="1894" dy="18">算。</tspan></text></g>
<g id="t20"><text class="t" x="1869" y="2052"><tspan x="1869">出卖人与包销人订立商品房包销合同，约定出</tspan><tspan x="1869" dy="18">卖人将其开发建设的房屋交由包销人以出卖人</tspan><tspan x="1869" dy="18">的名义销售的，包销期满未销售的房屋，由包</tspan><tspan x="1869" dy="18">销人按照合同约定的包销价格购买，但当事人</tspan><tspan x="1869" dy="18">另有约定的除外。</tspan></text></g>
<g id="t22"><text class="t" x="1869" y="2185"><tspan x="1869">对于买受人因商品房买卖合同与出卖人发生的</tspan><tspan x="1869" dy="18">纠纷，人民法院应当通知包销人参加诉讼;出</tspan><tspan x="1869" dy="18">卖人、包销人和买受人对各自的权利义务有明</tspan><tspan x="1869" dy="18">确约定的，按照约定的内容确定各方的诉讼地</tspan><tspan x="1869" dy="18">位。</tspan></text></g>
<g id="t24"><text class="t" x="1894" y="2321"><tspan x="1894">因商品房买卖合同被确认无效或者被撤销、解</tspan><tspan x="1894" dy="18">除，致使商品房担保****合同的目的无法实现</tspan><tspan x="1894" dy="18">，当事人请求解除商品房担保****合同的，应</tspan><tspan x="1894" dy="18">予支持。</tspan></text></g>
<g id="t26"><text class="t" x="1894" y="2439"><tspan x="1894">买受人未按照商品房担保****合同的约定偿还</tspan><tspan x="1894" dy="18">****，亦未与担保权人办理商品房抵押登记手</tspan><tspan x="1894" dy="18">续，担保权人起诉买受人，请求处分商品房买</tspan><tspan x="1894" dy="18">卖合同项下买受人合同权利的，应当通知出卖</tspan><tspan x="1894" dy="18">人参加诉讼;担保权人同时起诉出卖人时，如</tspan><tspan x="1894" dy="18">果出卖人为商品房担保****合同提供保证的，</tspan><tspan x="1894" dy="18">应当列为共同被告。</tspan></text></g>
<g id="t28"><text class="t" x="1869" y="2609"><tspan x="1869">法院为正确、及时审理商品房买卖合同纠纷案</tspan><tspan x="1869" dy="18.2">件，根据《中华人民共和国民法通则》、《中</tspan><tspan x="1869" dy="18.2">华人民共和国合同法》、《中华人民共和国城</tspan><tspan x="1869" dy="18.2">市房地产管理法》、《中华人民共和国担保法</tspan><tspan x="1869" dy="18.2">》、《最高人民法院关于审理商品房买卖合同</tspan><tspan x="1869" dy="18.2">纠纷案件适用法律若干问题的解释(2003年)</tspan><tspan x="1869" dy="18.2">》等相关法律、司法解释等结合民事审判实践</tspan><tspan x="1869" dy="18.2">，依法审理。</tspan></text></g>
</svg>
